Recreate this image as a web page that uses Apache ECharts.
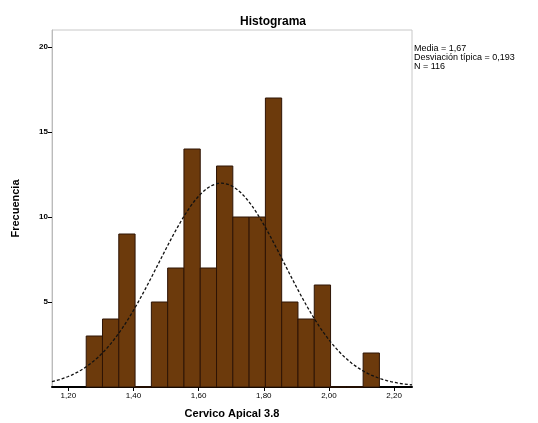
<!DOCTYPE html>
<html>
<head>
<meta charset="utf-8">
<script src="https://cdn.jsdelivr.net/npm/echarts@6/dist/echarts.min.js"></script>
<style>
html,body{margin:0;padding:0;background:#fff;}
#c{width:538px;height:423px;}
</style>
</head>
<body>
<div id="c"></div>
<script>
// Histogram bins (lower edges), bin width and counts
var binLower = [1.255,1.305,1.355,1.405,1.455,1.505,1.555,1.605,1.655,1.705,1.755,1.805,1.855,1.905,1.955,2.005,2.055,2.105];
var binWidth = 0.05;
var counts = [3,4,9,0,5,7,14,7,13,10,10,17,5,4,6,0,0,2];
// Tick labels on x axis
var xTicks = [1.2,1.4,1.6,1.8,2.0,2.2];
var yTicks = [5,10,15,20];
// Summary statistics (legend)
var mean = 1.67;
var sd = 0.193;
var n = 116;
var legendLines = ['Media = 1,67', 'Desviación típica = 0,193', 'N = 116'];

var bars = binLower.map(function(lo, i){ return [lo, lo + binWidth, counts[i]]; });

// Normal curve defined by the summary statistics
var curve = [];
for (var i = 0; i <= 221; i++) {
  var x = 1.15 + i * 0.005;
  var z = (x - mean) / sd;
  curve.push([x, n * binWidth / (sd * Math.sqrt(2 * Math.PI)) * Math.exp(-0.5 * z * z)]);
}

var chart = echarts.init(document.getElementById('c'), null, {renderer:'canvas'});
var font = '"Liberation Sans", Arial, sans-serif';
chart.setOption({
  backgroundColor: '#fff',
  animation: false,
  title: {
    text: 'Histograma', left: 268, top: 11, textAlign: 'center',
    textStyle: {fontFamily: font, fontWeight: 'bold', fontSize: 12, color: '#000'}
  },
  grid: {left: 52, top: 30, right: 126, bottom: 36, show: true, borderColor: '#c8c8c8', borderWidth: 1,
    backgroundColor: '#fff', containLabel: false, outerBoundsMode: 'none'},
  xAxis: {
    type: 'value', min: 1.15, max: 2.255,
    name: 'Cervico Apical 3.8', nameLocation: 'middle', nameGap: 21,
    nameTextStyle: {fontFamily: font, fontWeight: 'bold', fontSize: 11, color: '#000'},
    axisLine: {show: true, lineStyle: {color: '#000', width: 2}},
    axisTick: {show: true, customValues: xTicks, length: 4, lineStyle: {color: '#000'}},
    axisLabel: {customValues: xTicks, fontFamily: font, fontSize: 8, color: '#000', margin: 5,
      formatter: function(v){ return v.toFixed(2).replace('.', ','); }},
    splitLine: {show: false}
  },
  yAxis: {
    type: 'value', min: 0, max: 21,
    name: 'Frecuencia', nameLocation: 'middle', nameGap: 31,
    nameTextStyle: {fontFamily: font, fontWeight: 'bold', fontSize: 11, color: '#000'},
    axisLine: {show: true, lineStyle: {color: '#bbb', width: 1}},
    axisTick: {show: true, customValues: yTicks, length: 4, lineStyle: {color: '#000'}},
    axisLabel: {customValues: yTicks, fontFamily: font, fontSize: 8, fontWeight: 'bold', color: '#000', margin: 4},
    splitLine: {show: false}
  },
  graphic: legendLines.map(function(t, i){
    return {type: 'text', left: 414, top: 44 + i * 9,
      style: {text: t, fontFamily: font, fontSize: 9, fill: '#000'}};
  }),
  series: [
    {
      type: 'custom',
      data: bars,
      encode: {x: [0, 1], y: 2},
      renderItem: function(params, api){
        var p0 = api.coord([api.value(0), api.value(2)]);
        var p1 = api.coord([api.value(1), 0]);
        return {type: 'rect', shape: {x: p0[0], y: p0[1], width: p1[0] - p0[0], height: p1[1] - p0[1]},
          style: {fill: '#6c3a0c', stroke: '#2e1405', lineWidth: 1}};
      },
      z: 2
    },
    {
      type: 'line', data: curve, showSymbol: false, smooth: false,
      lineStyle: {color: '#111', width: 1.3, type: [3, 2]}, z: 3
    }
  ]
});
</script>
</body>
</html>
